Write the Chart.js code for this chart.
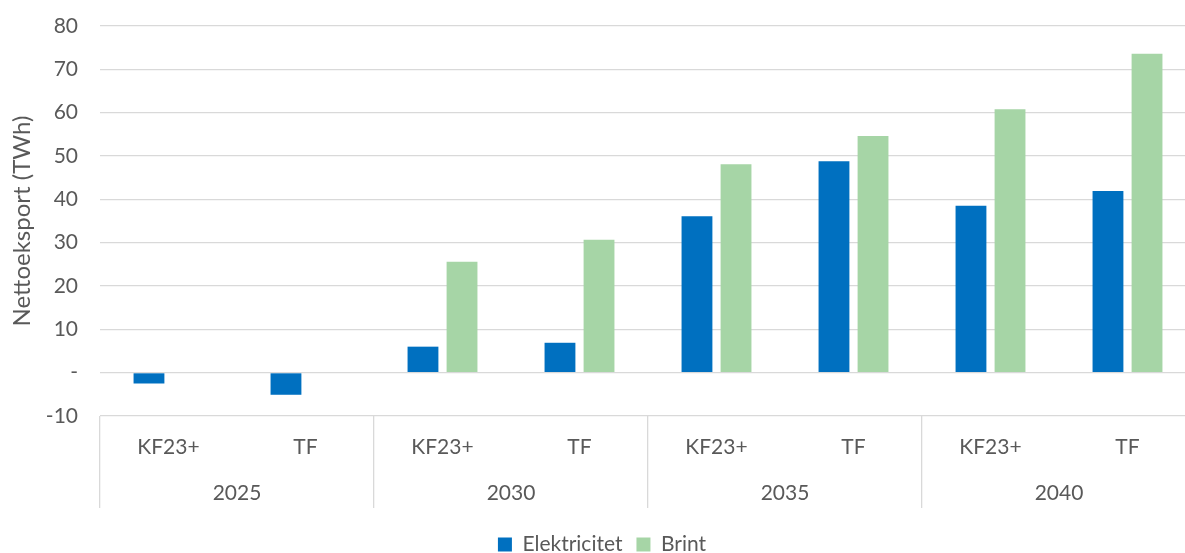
<!DOCTYPE html>
<html>
<head>
<meta charset="utf-8">
<script src="https://cdn.jsdelivr.net/npm/chart.js@4/dist/chart.umd.min.js"></script>
<style>
  html, body { margin: 0; padding: 0; background: #ffffff; overflow: hidden; }
  #wrap { width: 1200px; height: 553px; }
</style>
</head>
<body>
<div id="wrap"><canvas id="c" width="1200" height="553"></canvas></div>
<script>
const subCategories = ['KF23+', 'TF', 'KF23+', 'TF', 'KF23+', 'TF', 'KF23+', 'TF'];
const years = ['2025', '2030', '2035', '2040'];
const elektricitet = [-2.5, -5.1, 6.0, 6.9, 36.1, 48.8, 38.5, 41.9];
const brint = [null, null, 25.6, 30.7, 48.1, 54.6, 60.8, 73.6];
const yMin = -10;
const yMax = 80;
const yStep = 10;
const yTitle = 'Nettoeksport (TWh)';
const seriesNames = ['Elektricitet', 'Brint'];

const textColor = '#595959';
const gridColor = '#d9d9d9';
const fam = 'Lato, "Open Sans", sans-serif';
const font = { family: fam, size: 21 };
const titleFont = { family: fam, size: 24 };

new Chart(document.getElementById('c'), {
  type: 'bar',
  data: {
    labels: subCategories,
    datasets: [
      { label: seriesNames[0], data: elektricitet, backgroundColor: '#0070C0', categoryPercentage: 0.57, barPercentage: 0.79 },
      { label: seriesNames[1], data: brint, backgroundColor: '#A6D5A6', categoryPercentage: 0.57, barPercentage: 0.79 }
    ]
  },
  options: {
    responsive: false,
    animation: false,
    layout: { padding: { top: 2, right: 4, left: 8, bottom: -12 } },
    plugins: {
      legend: {
        position: 'bottom',
        labels: { color: textColor, font: font, boxWidth: 14, boxHeight: 14, padding: 14 }
      },
      tooltip: { enabled: false }
    },
    scales: {
      y: {
        min: yMin, max: yMax,
        ticks: {
          stepSize: yStep, color: textColor, font: font, padding: 22,
          callback: v => v === 0 ? '-' : String(v)
        },
        grid: { color: gridColor, lineWidth: 1.3, drawTicks: false },
        border: { display: false },
        title: { display: true, text: yTitle, color: textColor, font: titleFont, padding: { top: 0, bottom: 4 } },
        afterFit: s => { s.width = 92; s.paddingTop = 26; s.paddingBottom = 0; }
      },
      x: {
        type: 'category',
        labels: subCategories,
        weight: 0,
        offset: true,
        grid: {
          display: true, offset: true, drawOnChartArea: false, drawTicks: true, tickLength: 92,
          lineWidth: 1.3,
          color: ctx => (ctx.index !== undefined && ctx.index % 2 === 0) ? gridColor : 'rgba(0,0,0,0)'
        },
        border: { display: false },
        ticks: { padding: -73, color: textColor, font: font, maxRotation: 0, autoSkip: false },
        afterFit: s => { s.height = 45; }
      },
      x2: {
        type: 'category',
        labels: years,
        position: 'bottom',
        weight: 1,
        offset: true,
        grid: { display: false, drawTicks: false },
        border: { display: false },
        ticks: { padding: 20, color: textColor, font: font, maxRotation: 0, autoSkip: false },
        afterFit: s => { s.height = 59; }
      }
    }
  }
});
</script>
</body>
</html>
